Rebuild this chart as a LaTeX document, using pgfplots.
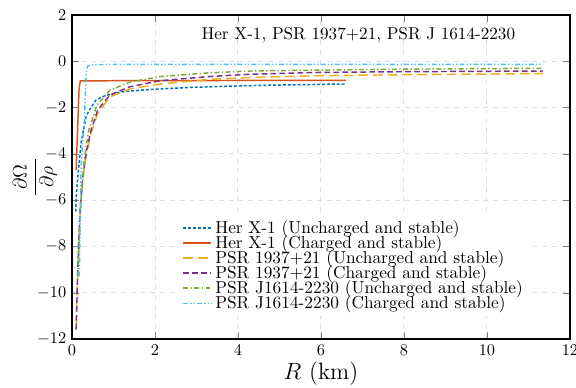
\documentclass[border=0pt]{standalone}
\usepackage{pgfplots}
\pgfplotsset{compat=1.18}
\definecolor{mblue}{rgb}{0,0.447,0.741}
\definecolor{morange}{rgb}{0.85,0.325,0.098}
\definecolor{myellow}{rgb}{0.929,0.694,0.125}
\definecolor{mpurple}{rgb}{0.494,0.184,0.556}
\definecolor{mgreen}{rgb}{0.466,0.674,0.188}
\definecolor{mcyan}{rgb}{0.301,0.745,0.933}
\begin{document}
\begin{tikzpicture}
\begin{axis}[
  scale only axis,
  width=305pt, height=198.4pt,
  xmin=0, xmax=12, ymin=-12, ymax=2,
  xtick={0,2,...,12}, ytick={-12,-10,...,2},
  grid=major,
  major grid style={dashed, gray!25, line width=0.6pt},
  tick align=inside,
  axis line style={line width=0.8pt},
  xlabel={$R$ (km)},
  ylabel={$\displaystyle\frac{\;\partial\Omega\;}{\partial\rho}$},
  ylabel style={font=\large, yshift=-19pt},
  xlabel style={font=\Large, yshift=3pt},
  ticklabel style={font=\normalsize},
  legend style={at={(0.218,0.383)}, anchor=north west, draw=none, fill=white,
    font=\fontsize{10.6}{12.5}\selectfont, row sep=-4.2pt, inner sep=1pt},
  legend cell align=left,
  legend image post style={line width=1pt},
]
\addplot[mblue, line width=0.9pt, dash pattern=on 1.8pt off 1.2pt] coordinates {
(0.09,-6.5)(0.1,-5.9)(0.14,-5.0)(0.22,-3.5)(0.34,-2.4)(0.42,-2.1)(0.58,-1.67)(0.8,-1.48)(1.24,-1.31)(2.04,-1.2)(3,-1.12)(4.29,-1.05)(5.5,-1.01)(6.6,-0.98)};
\addlegendentry{Her X-1 (Uncharged and stable)}
\addplot[morange, line width=0.9pt] coordinates {
(0.1,-4.7)(0.17,-1.2)(0.2,-0.85)(1,-0.84)(6.6,-0.82)};
\addlegendentry{Her X-1 (Charged and stable)}
\addplot[myellow, line width=0.9pt, dash pattern=on 6pt off 3pt] coordinates {
(0.1,-11.4)(0.12,-10.1)(0.14,-8.9)(0.17,-7.5)(0.2,-6.4)(0.26,-5.1)(0.34,-4.1)(0.46,-3.1)(0.62,-2.25)(0.92,-1.53)(1.4,-1.2)(2.12,-0.98)(3.33,-0.78)(4.29,-0.7)(6,-0.62)(8,-0.58)(11.35,-0.53)};
\addlegendentry{PSR 1937+21 (Uncharged and stable)}
\addplot[mpurple, line width=0.9pt, dash pattern=on 3.5pt off 2pt] coordinates {
(0.1,-11.6)(0.12,-10.3)(0.14,-9.0)(0.17,-7.5)(0.2,-6.3)(0.26,-5.0)(0.34,-3.97)(0.46,-2.97)(0.62,-2.1)(0.92,-1.45)(1.4,-1.1)(2.12,-0.84)(3.3,-0.66)(4.29,-0.56)(6,-0.48)(8,-0.45)(11.35,-0.42)};
\addlegendentry{PSR 1937+21 (Charged and stable)}
\addplot[mgreen, line width=0.9pt, dash pattern=on 3pt off 1.5pt on 0.8pt off 1.5pt] coordinates {
(0.14,-9.3)(0.17,-7.8)(0.22,-6.0)(0.3,-4.2)(0.4,-3.0)(0.6,-1.9)(0.92,-1.24)(1.4,-0.9)(2.12,-0.66)(3.3,-0.5)(4.29,-0.42)(6,-0.38)(8,-0.34)(11.35,-0.3)};
\addlegendentry{PSR J1614-2230 (Uncharged and stable)}
\addplot[mcyan, line width=0.9pt, dash pattern=on 3pt off 1.3pt on 0.8pt off 1.3pt on 0.8pt off 1.3pt] coordinates {
(0.17,-9.3)(0.18,-8.9)(0.2,-6.5)(0.22,-4.55)(0.26,-3.4)(0.3,-2.5)(0.32,-1.5)(0.34,-0.5)(0.38,-0.2)(0.5,-0.14)(2,-0.13)(11.35,-0.13)};
\addlegendentry{PSR J1614-2230 (Charged and stable)}
\node[font=\fontsize{10.5}{12}\selectfont] at (axis cs:6.9,1.15) {Her X-1, PSR 1937+21, PSR J 1614-2230};
\end{axis}
\pgfresetboundingbox
\path ([xshift=-44.1pt,yshift=-30pt]current axis.south west) rectangle ([xshift=3.7pt,yshift=9.2pt]current axis.north east);
\end{tikzpicture}
\end{document}
